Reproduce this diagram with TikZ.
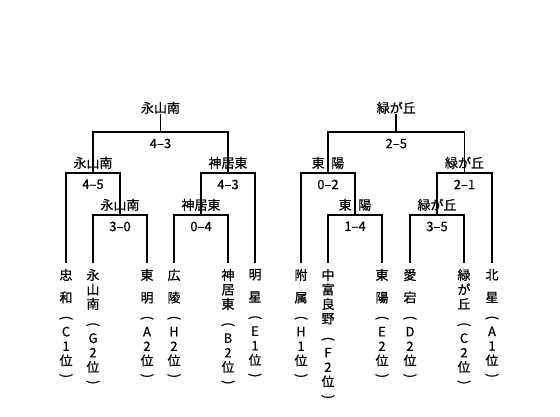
\documentclass[tikz,border=0pt]{standalone}
\usepackage{fontspec}
\setmainfont{Noto Sans CJK JP}[FakeBold=0.6]
\usepackage{graphicx}
\usetikzlibrary{positioning}
\newcommand{\lpar}{\rotatebox[origin=c]{-90}{(}}
\newcommand{\rpar}{\rotatebox[origin=c]{-90}{)}}
\newcommand{\rank}[3]{#1\\[5bp]\lpar\\#2\\#3\\位\\\rpar}
\tikzset{
  bracketline/.style={draw=black, line width=1.7bp},
  winner/.style={font=\fontsize{13bp}{15bp}\selectfont, inner sep=0pt},
  score/.style={font=\fontsize{13bp}{15bp}\selectfont, inner sep=0pt},
  leafname/.style={font=\fontsize{13bp}{14.5bp}\selectfont, inner sep=0pt,
    outer sep=6bp, anchor=north, align=center}
}
\begin{document}
\begin{tikzpicture}[x=1bp, y=-1bp]
  \fill[white] (0,0) rectangle (560,416);
  \useasboundingbox (0,0) rectangle (560,416);
  % left half
  \node[leafname] (t1) at (66,263) {\rank{忠\\[8bp]和}{C}{1}};
  \node[leafname] (t2) at (93,263) {\rank{永\\山\\南}{G}{2}};
  \node[leafname] (t3) at (147,263) {\rank{東\\[8bp]明}{A}{2}};
  \node[leafname] (t4) at (174,263) {\rank{広\\[8bp]陵}{H}{2}};
  \node[leafname] (t5) at (228,263) {\rank{神\\居\\東}{B}{2}};
  \node[leafname] (t6) at (255,263) {\rank{明\\[8bp]星}{E}{1}};
  \coordinate (ma) at (120,215);
  \coordinate (mb) at (201,215);
  \coordinate (mc) at (93,173);
  \coordinate (md) at (228,173);
  \coordinate (me) at (160.5,132);
  \draw[bracketline] (t2) |- (ma) -| (t3);
  \draw[bracketline] (t4) |- (mb) -| (t5);
  \draw[bracketline] (t1) |- (mc) -| (ma);
  \draw[bracketline] (mb) |- (md) -| (t6);
  \draw[bracketline] (mc) |- (me) -| (md);
  \node[score, below=6.5bp of ma] (sa) {3–0};
  \node[score, below=6.5bp of mb] (sb) {0–4};
  \node[score, below=6.5bp of mc] (sc) {4–5};
  \node[score, below=6.5bp of md] (sd) {4–3};
  \node[score, below=6.5bp of me] (se) {4–3};
  \node[winner, above=4bp of ma] (wa) {永山南};
  \node[winner, above=4bp of mb] (wb) {神居東};
  \node[winner, above=4bp of mc] (wc) {永山南};
  \node[winner, above=4bp of md] (wd) {神居東};
  \node[winner, above=18bp of me] (we) {永山南};
  \draw[bracketline] (me) -- (we);
  % right half
  \node[leafname] (u1) at (301,263) {\rank{附\\[8bp]属}{H}{1}};
  \node[leafname] (u2) at (328,263) {\rank{中\\富\\良\\野}{F}{2}};
  \node[leafname] (u3) at (382,263) {\rank{東\\[8bp]陽}{E}{2}};
  \node[leafname] (u4) at (410,263) {\rank{愛\\[8bp]宕}{D}{2}};
  \node[leafname] (u5) at (464,263) {\rank{緑\\が\\丘}{C}{2}};
  \node[leafname] (u6) at (492,263) {\rank{北\\[8bp]星}{A}{1}};
  \coordinate (mf) at (355,215);
  \coordinate (mg) at (437,215);
  \coordinate (mh) at (328,173);
  \coordinate (mi) at (464.5,173);
  \coordinate (mj) at (396.25,132);
  \draw[bracketline] (u2) |- (mf) -| (u3);
  \draw[bracketline] (u4) |- (mg) -| (u5);
  \draw[bracketline] (u1) |- (mh) -| (mf);
  \draw[bracketline] (mg) |- (mi) -| (u6);
  \draw[bracketline] (mh) |- (mj) -| (mi);
  \node[score, below=6.5bp of mf] (sf) {1–4};
  \node[score, below=6.5bp of mg] (sg) {3–5};
  \node[score, below=6.5bp of mh] (sh) {0–2};
  \node[score, below=6.5bp of mi] (si) {2–1};
  \node[score, below=6.5bp of mj] (sj) {2–5};
  \node[winner, above=4bp of mf] (wf) {東\hspace{0.5em}陽};
  \node[winner, above=4bp of mg] (wg) {緑が丘};
  \node[winner, above=4bp of mh] (wh) {東\hspace{0.5em}陽};
  \node[winner, above=4bp of mi] (wi) {緑が丘};
  \node[winner, above=18bp of mj] (wj) {緑が丘};
  \draw[bracketline] (mj) -- (wj);
\end{tikzpicture}
\end{document}
